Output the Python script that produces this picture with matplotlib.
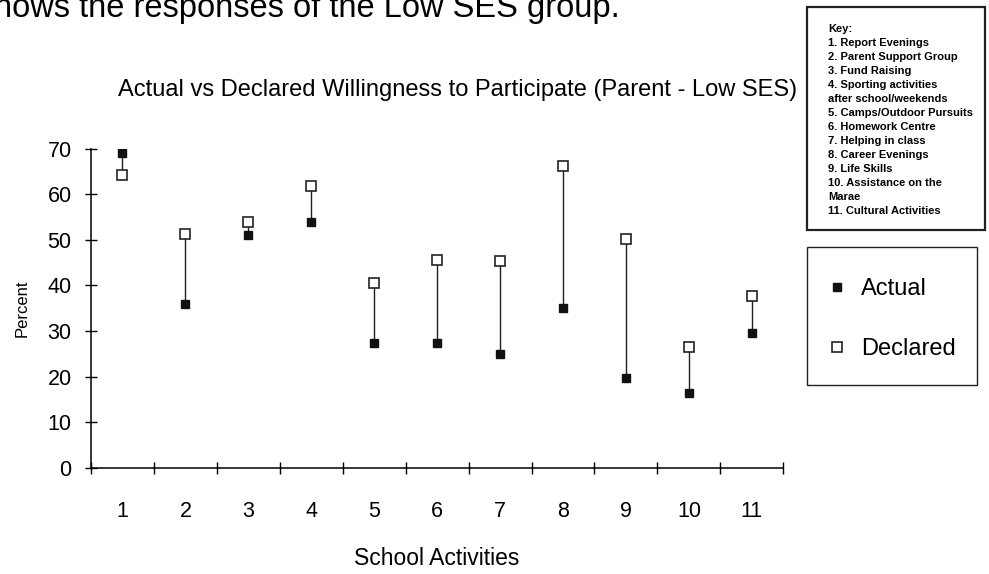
# Actual vs declared willingness to participate, Low SES parents

import numpy as np
import matplotlib.pyplot as plt

plt.rcParams['font.family'] = ['Liberation Sans', 'DejaVu Sans']

activities = np.arange(1, 12)
actual = [69.0, 36.0, 51.0, 54.0, 27.4, 27.4, 25.0, 35.0, 19.7, 16.5, 29.6]
declared = [64.3, 51.2, 54.0, 61.9, 40.6, 45.5, 45.3, 66.1, 50.2, 26.6, 37.7]
yticks = [0, 10, 20, 30, 40, 50, 60, 70]
key_lines = ['Key:', '1. Report Evenings', '2. Parent Support Group', '3. Fund Raising',
             '4. Sporting activities', 'after school/weekends',
             '5. Camps/Outdoor Pursuits', '6. Homework Centre', '7. Helping in class',
             '8. Career Evenings', '9. Life Skills', '10. Assistance on the',
             'Marae', '11. Cultural Activities']

fig = plt.figure(figsize=(9.89, 5.74), dpi=100)
ax = fig.add_axes([0.092, 0.185, 0.700, 0.556])

# vertical connectors then the two marker series
ax.vlines(activities, actual, declared, color='#222222', lw=1.0)
ax.plot(activities, declared, 's', ms=7.5, mfc='white', mec='#222222', mew=1.2,
        ls='none', label='Declared')
ax.plot(activities, actual, 's', ms=6, color='#111111', ls='none', label='Actual')

ax.set_xlim(0.5, 11.5)
ax.set_ylim(0, 70)
ax.set_yticks(yticks)
ax.set_xticks(activities)
ax.set_xticks(np.arange(0.5, 12, 1), minor=True)
ax.tick_params(axis='x', which='major', length=0, pad=24, labelsize=15.5)
ax.tick_params(axis='x', which='minor', direction='inout', length=8, width=1)
ax.tick_params(axis='y', direction='inout', length=8, width=1, pad=10, labelsize=15.5)
for s in ['top', 'right']:
    ax.spines[s].set_visible(False)
for s in ['left', 'bottom']:
    ax.spines[s].set_linewidth(1.1)

ax.set_xlabel('School Activities', fontsize=16.5, labelpad=18)
ax.set_ylabel('Percent', fontsize=12)
ax.yaxis.set_label_coords(-0.088, 0.5)
ax.set_title('Actual vs Declared Willingness to Participate (Parent - Low SES)',
             fontsize=17, pad=38, x=0.53)

# page text cut off at the top of the scan
fig.text(-0.006, 0.971, 'hows the responses of the Low SES group.', fontsize=23.5,
         va='baseline')

# key box
fig.patches.append(plt.Rectangle((807 / 989, 1 - 230 / 574), 178 / 989, 223 / 574,
                                 transform=fig.transFigure, fill=False, lw=1.6,
                                 ec='#222222'))
for i, line in enumerate(key_lines):
    fig.text(828 / 989, 1 - (29 + i * 14) / 574, line, fontsize=8,
             fontweight='bold', va='center')

# legend box
fig.patches.append(plt.Rectangle((807 / 989, 1 - 385 / 574), 170 / 989, 138 / 574,
                                 transform=fig.transFigure, fill=False, lw=1.0,
                                 ec='#222222'))
h, l = ax.get_legend_handles_labels()
leg = fig.legend([h[1], h[0]], [l[1], l[0]], loc='upper left',
                 bbox_to_anchor=(804 / 989, 1 - 257 / 574), frameon=False,
                 fontsize=17, handletextpad=0.5, labelspacing=1.6, handlelength=1)

fig.savefig('out.png', dpi=100)
